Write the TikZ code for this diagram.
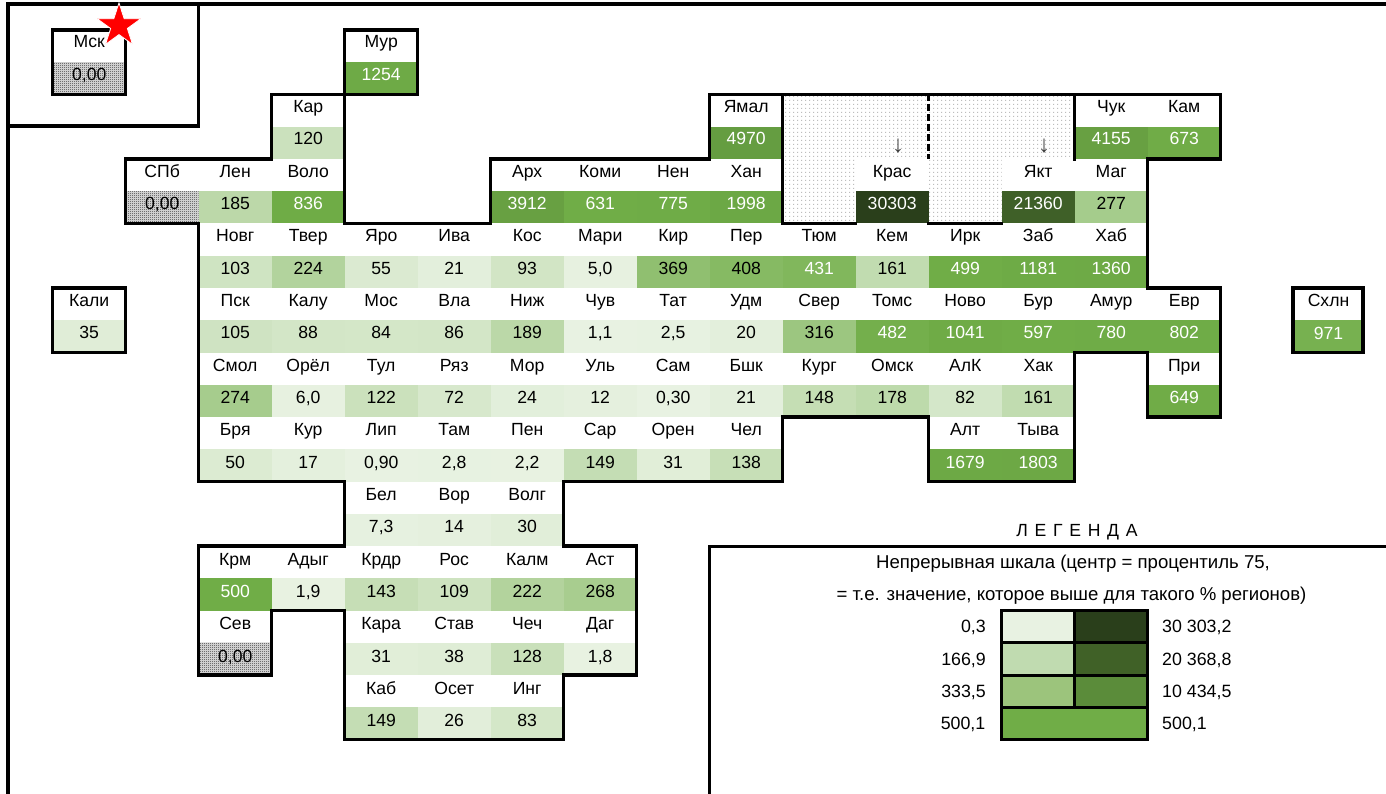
\documentclass[tikz,border=0pt]{standalone}
\usepackage{fontspec}
\setmainfont{Liberation Sans}
\usetikzlibrary{shapes.geometric,patterns}
\definecolor{low}{HTML}{E8F2E2}
\definecolor{mid}{HTML}{70AD47}
\definecolor{high}{HTML}{2A3F1B}
\definecolor{ltwo}{HTML}{C0DBB0}
\definecolor{lthree}{HTML}{9CC47C}
\definecolor{htwo}{HTML}{5B8C3A}
\definecolor{hthree}{HTML}{406127}
\definecolor{dotc}{HTML}{BDBDBD}
\definecolor{chkc}{HTML}{303030}
\definecolor{chkbase}{HTML}{E6E6E6}
\pgfdeclarepatternformonly{chk}{\pgfqpoint{0pt}{0pt}}{\pgfqpoint{2pt}{2pt}}{\pgfqpoint{2pt}{2pt}}{%
  \pgfpathrectangle{\pgfqpoint{0pt}{0pt}}{\pgfqpoint{1pt}{1pt}}%
  \pgfpathrectangle{\pgfqpoint{1pt}{1pt}}{\pgfqpoint{1pt}{1pt}}%
  \pgfusepath{fill}}
\pgfdeclarepatternformonly{dotty}{\pgfqpoint{0pt}{0pt}}{\pgfqpoint{4pt}{4pt}}{\pgfqpoint{4pt}{4pt}}{%
  \pgfpathrectangle{\pgfqpoint{1.5pt}{1.5pt}}{\pgfqpoint{1pt}{1pt}}%
  \pgfusepath{fill}}
\tikzset{
  txt/.style={font=\fontsize{17.6}{20}\selectfont,inner sep=0pt,anchor=base},
  legline/.style={txt,font=\fontsize{18.6}{20}\selectfont},
  lft/.style={txt,font=\fontsize{17.8}{20}\selectfont,anchor=base east},
  rgt/.style={txt,font=\fontsize{17.8}{20}\selectfont,anchor=base west},
  arrowglyph/.style={txt,font=\fontsize{24}{26}\selectfont,text=black!75},
  thick line/.style={line width=3.3pt,black,line join=miter,line cap=rect},
  dotzone/.style={pattern=dotty,pattern color=dotc},
  hatchzone/.style={pattern=chk,pattern color=chkc},
  legcell/.style={line width=3pt,black},
}
\newcommand{\gx}[1]{52.5+73*#1}
\newcommand{\gy}[1]{30+64.5*#1}
\begin{document}
\begin{tikzpicture}[x=1pt,y=-1pt]
\useasboundingbox (0,0) rectangle (1386,794);
\fill[white] (0,0) rectangle (1386,794);
% dotted zone
\fill[dotzone] (782.5,94.5) rectangle (1074.5,159);
\fill[dotzone] (782.5,159) rectangle (855.5,223.5);
\fill[dotzone] (928.5,159) rectangle (1001.5,223.5);
% cells
\foreach \c/\r/\lab/\tx/\v in {
0/0/Мск/{0,00}/-1,4/0/Мур/1254/12.54,
3/1/Кар/120/1.20,9/1/Ямал/4970/49.70,14/1/Чук/4155/41.55,15/1/Кам/673/6.73,
1/2/СПб/{0,00}/-1,2/2/Лен/185/1.85,3/2/Воло/836/8.36,6/2/Арх/3912/39.12,7/2/Коми/631/6.31,8/2/Нен/775/7.75,9/2/Хан/1998/19.98,11/2/Крас/30303/303.03,13/2/Якт/21360/213.60,14/2/Маг/277/2.77,
2/3/Новг/103/1.03,3/3/Твер/224/2.24,4/3/Яро/55/0.55,5/3/Ива/21/0.21,6/3/Кос/93/0.93,7/3/Мари/{5,0}/0.05,8/3/Кир/369/3.69,9/3/Пер/408/4.08,10/3/Тюм/431/4.31,11/3/Кем/161/1.61,12/3/Ирк/499/4.99,13/3/Заб/1181/11.81,14/3/Хаб/1360/13.60,
0/4/Кали/35/0.35,2/4/Пск/105/1.05,3/4/Калу/88/0.88,4/4/Мос/84/0.84,5/4/Вла/86/0.86,6/4/Ниж/189/1.89,7/4/Чув/{1,1}/0.011,8/4/Тат/{2,5}/0.025,9/4/Удм/20/0.20,10/4/Свер/316/3.16,11/4/Томс/482/4.82,12/4/Ново/1041/10.41,13/4/Бур/597/5.97,14/4/Амур/780/7.80,15/4/Евр/802/8.02,
2/5/Смол/274/2.74,3/5/Орёл/{6,0}/0.06,4/5/Тул/122/1.22,5/5/Ряз/72/0.72,6/5/Мор/24/0.24,7/5/Уль/12/0.12,8/5/Сам/{0,30}/0.003,9/5/Бшк/21/0.21,10/5/Кург/148/1.48,11/5/Омск/178/1.78,12/5/АлК/82/0.82,13/5/Хак/161/1.61,15/5/При/649/6.49,
2/6/Бря/50/0.50,3/6/Кур/17/0.17,4/6/Лип/{0,90}/0.009,5/6/Там/{2,8}/0.028,6/6/Пен/{2,2}/0.022,7/6/Сар/149/1.49,8/6/Орен/31/0.31,9/6/Чел/138/1.38,12/6/Алт/1679/16.79,13/6/Тыва/1803/18.03,
4/7/Бел/{7,3}/0.073,5/7/Вор/14/0.14,6/7/Волг/30/0.30,
2/8/Крм/500/5.00,3/8/Адыг/{1,9}/0.019,4/8/Крдр/143/1.43,5/8/Рос/109/1.09,6/8/Калм/222/2.22,7/8/Аст/268/2.68,
2/9/Сев/{0,00}/-1,4/9/Кара/31/0.31,5/9/Став/38/0.38,6/9/Чеч/128/1.28,7/9/Даг/{1,8}/0.018,
4/10/Каб/149/1.49,5/10/Осет/26/0.26,6/10/Инг/83/0.83}
{
  \pgfmathsetmacro\xa{\gx{\c}}
  \pgfmathsetmacro\xb{\xa+73}
  \pgfmathsetmacro\xm{\xa+36.7}
  \pgfmathsetmacro\ya{\gy{\r}}
  \pgfmathsetmacro\yb{\ya+32.25}
  \pgfmathsetmacro\yc{\ya+64.5}
  \pgfmathsetmacro\yt{\ya+0.15*\r}
  \ifdim\v pt<0pt
    \fill[chkbase] (\xa,\yb) rectangle (\xb,\yc);
    \fill[hatchzone] (\xa,\yb) rectangle (\xb,\yc);
    \def\tc{black}
  \else
    \ifdim\v pt<5pt
      \pgfmathsetmacro\pc{\v*20}
      \colorlet{cellc}{mid!\pc!low}
    \else
      \pgfmathsetmacro\pc{(\v-5)/2.9803}
      \colorlet{cellc}{high!\pc!mid}
    \fi
    \fill[cellc] (\xa,\yb) rectangle (\xb,\yc);
    \ifdim\v pt<4.3pt \def\tc{black}\else \def\tc{white}\fi
  \fi
  \node[txt] (lab-\c-\r) at (\xm,\yt+18) {\lab};
  \node[txt,text=\tc] (val-\c-\r) at (\xm,\yt+50.3) {\tx};
}
% Sakhalin sits slightly narrower, drawn on its own
\fill[mid!94!low] (1293,320) rectangle (1363,352.5);
\node[txt] (lab-sakh) at (1328.5,306.5) {Схлн};
\node[txt,text=white] (val-sakh) at (1328.5,339) {971};
% arrows
\node[arrowglyph] (arr-kras) at (898,153) {↓};
\node[arrowglyph] (arr-yakt) at (1044,153) {↓};
% frame
\draw[thick line] (1386,4) -- (8,4) -- (8,794);
\draw[thick line] (198.5,4) -- (198.5,126) -- (8,126);
\draw[thick line] (1386,546.5) -- (709.5,546.5) -- (709.5,794);
% boxes
\draw[thick line] (52.5,30) rectangle (125.5,94.5);
\draw[thick line] (52.5,288) rectangle (125.5,352.5);
\draw[thick line] (1293,288) rectangle (1363,352.5);
% main outline
\draw[thick line] (344.5,30) -- (417.5,30) -- (417.5,94.5) -- (344.5,94.5) -- (344.5,223.5) -- (490.5,223.5) -- (490.5,159) -- (709.5,159) -- (709.5,94.5) -- (1220.5,94.5) -- (1220.5,159) -- (1147.5,159) -- (1147.5,288) -- (1220.5,288) -- (1220.5,417) -- (1147.5,417) -- (1147.5,352.5) -- (1074.5,352.5) -- (1074.5,481.5) -- (928.5,481.5) -- (928.5,417) -- (782.5,417) -- (782.5,481.5) -- (563.5,481.5) -- (563.5,546) -- (636.5,546) -- (636.5,675) -- (563.5,675) -- (563.5,739.5) -- (344.5,739.5) -- (344.5,610.5) -- (271.5,610.5) -- (271.5,675) -- (198.5,675) -- (198.5,546) -- (344.5,546) -- (344.5,481.5) -- (198.5,481.5) -- (198.5,223.5) -- (125.5,223.5) -- (125.5,159) -- (271.5,159) -- (271.5,94.5) -- (344.5,94.5) -- cycle;
% inner outline of the dotted zone
\draw[thick line] (782.5,94.5) -- (782.5,223.5) -- (855.5,223.5);
\draw[thick line] (928.5,223.5) -- (1001.5,223.5);
\draw[thick line] (1074.5,94.5) -- (1074.5,159);
\draw[line width=3.3pt,black,dash pattern=on 7pt off 3pt] (928.5,94.5) -- (928.5,159);
% star
\node[star,star points=5,star point ratio=2.618,minimum size=46pt,inner sep=0pt,fill=red,draw=white,line width=0.8pt] (star) at (119,25.8) {};
% legend
\node[txt] (leg-title) at (1077,536) {Л\kern1.8pt\ Е\kern1.8pt\ Г\kern1.8pt\ Е\kern1.8pt\ Н\kern1.8pt\ Д\kern1.8pt\ А};
\node[legline] (leg-a) at (1073,568.5) {Непрерывная шкала (центр = процентиль 75,};
\node[legline] (leg-b) at (1071.5,600.5) {= т.е. значение, которое выше для такого \% регионов)};
\fill[low] (1001.5,610.5) rectangle (1074.5,642.75);
\fill[high] (1074.5,610.5) rectangle (1147.5,642.75);
\fill[ltwo] (1001.5,642.75) rectangle (1074.5,675);
\fill[hthree] (1074.5,642.75) rectangle (1147.5,675);
\fill[lthree] (1001.5,675) rectangle (1074.5,707.25);
\fill[htwo] (1074.5,675) rectangle (1147.5,707.25);
\fill[mid] (1001.5,707.25) rectangle (1147.5,739.5);
\draw[legcell] (1001.5,610.5) rectangle (1147.5,739.5);
\draw[legcell] (1001.5,642.75) -- (1147.5,642.75) (1001.5,675) -- (1147.5,675) (1001.5,707.25) -- (1147.5,707.25);
\draw[legcell] (1074.5,610.5) -- (1074.5,707.25);
\node[lft] (ll1) at (986,632.5) {0,3};
\node[lft] (ll2) at (986,665) {166,9};
\node[lft] (ll3) at (986,697.5) {333,5};
\node[lft] (ll4) at (985.5,729.5) {500,1};
\node[rgt] (lr1) at (1162,632.5) {30 303,2};
\node[rgt] (lr2) at (1162,665) {20 368,8};
\node[rgt] (lr3) at (1162,697.5) {10 434,5};
\node[rgt] (lr4) at (1162,729.5) {500,1};
\end{tikzpicture}
\end{document}
